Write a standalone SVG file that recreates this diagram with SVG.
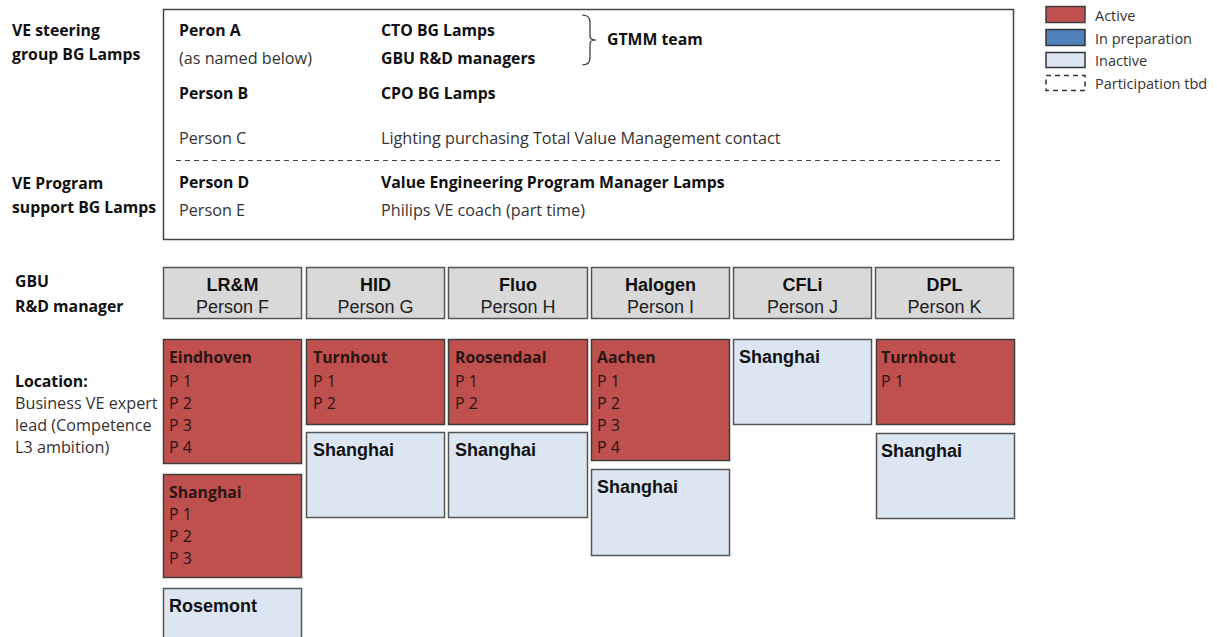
<svg xmlns="http://www.w3.org/2000/svg" width="1217" height="637" viewBox="0 0 1217 637">
<style>
.c{font-family:"Open Sans","Liberation Sans",sans-serif;font-size:16.2px;fill:#333}
.cb{font-family:"Open Sans","Liberation Sans",sans-serif;font-size:15.8px;font-weight:bold;fill:#111}
.lg{font-family:"Open Sans","Liberation Sans",sans-serif;font-size:14.5px;fill:#333}
.ab{font-family:"Liberation Sans",Arial,sans-serif;font-size:18px;font-weight:bold;fill:#111}
.ar{font-family:"Liberation Sans",Arial,sans-serif;font-size:18px;fill:#222}
.rt{font-family:"Open Sans","Liberation Sans",sans-serif;font-size:16px;fill:#2a1515}
.rtb{font-family:"Open Sans","Liberation Sans",sans-serif;font-size:15.8px;font-weight:bold;fill:#2a1515}
.hdr{fill:#d9d9d9;stroke:#555;stroke-width:1.5}
.act{fill:#c0504d;stroke:#3d3d3d;stroke-width:1.5}
.ina{fill:#dce6f2;stroke:#555;stroke-width:1.5}
.prep{fill:#4f81bd;stroke:#333;stroke-width:1.5}
</style>

<g id="labels">
<text class="cb" x="12" y="36">VE steering</text>
<text class="cb" x="12" y="60">group BG Lamps</text>
<text class="cb" x="12" y="189">VE Program</text>
<text class="cb" x="12" y="213">support BG Lamps</text>
<text class="cb" x="15" y="287">GBU</text>
<text class="cb" x="15" y="312">R&amp;D manager</text>
<text class="cb" x="15" y="387">Location:</text>
<text class="c" x="15" y="409">Business VE expert</text>
<text class="c" x="15" y="431">lead (Competence</text>
<text class="c" x="15" y="453">L3 ambition)</text>
</g>

<g id="steering">
<rect x="163.5" y="9.5" width="850" height="230" fill="#fff" stroke="#444" stroke-width="1.5"/>
<line x1="176" y1="160.5" x2="1002" y2="160.5" stroke="#444" stroke-width="1.2" stroke-dasharray="5,4"/>
<text class="cb" x="179" y="36">Peron A</text>
<text class="c" x="179" y="64">(as named below)</text>
<text class="cb" x="179" y="99">Person B</text>
<text class="c" x="179" y="144">Person C</text>
<text class="cb" x="179" y="188">Person D</text>
<text class="c" x="179" y="216">Person E</text>
<text class="cb" x="381" y="36">CTO BG Lamps</text>
<text class="cb" x="381" y="64">GBU R&amp;D managers</text>
<text class="cb" x="381" y="99">CPO BG Lamps</text>
<text class="c" x="381" y="144">Lighting purchasing Total Value Management contact</text>
<text class="cb" x="381" y="188">Value Engineering Program Manager Lamps</text>
<text class="c" x="381" y="216">Philips VE coach (part time)</text>
<path d="M582,15 Q590,15 590,22 L590,36 Q590,40 596,40 Q590,40 590,44 L590,58 Q590,65 582,65" fill="none" stroke="#333" stroke-width="1.2"/>
<text class="cb" x="607" y="45">GTMM team</text>
</g>

<g id="legend">
<rect class="act" x="1046" y="6.5" width="39" height="16"/>
<text class="lg" x="1095" y="21">Active</text>
<rect class="prep" x="1046" y="29.5" width="39" height="16"/>
<text class="lg" x="1095" y="44">In preparation</text>
<rect x="1046" y="52.5" width="39" height="15" fill="#dce6f2" stroke="#333" stroke-width="1.5"/>
<text class="lg" x="1095" y="66">Inactive</text>
<rect x="1046" y="75.5" width="39" height="15" fill="none" stroke="#333" stroke-width="1.5" stroke-dasharray="5,4"/>
<text class="lg" x="1095" y="89">Participation tbd</text>
</g>

<g id="gbu-lrm">
<rect class="hdr" x="163.5" y="267.5" width="138" height="51"/>
<text class="ab" x="232.5" y="291" text-anchor="middle">LR&amp;M</text>
<text class="ar" x="232.5" y="313" text-anchor="middle">Person F</text>
</g>
<g id="gbu-hid">
<rect class="hdr" x="306.5" y="267.5" width="138" height="51"/>
<text class="ab" x="375.5" y="291" text-anchor="middle">HID</text>
<text class="ar" x="375.5" y="313" text-anchor="middle">Person G</text>
</g>
<g id="gbu-fluo">
<rect class="hdr" x="448.5" y="267.5" width="139" height="51"/>
<text class="ab" x="518" y="291" text-anchor="middle">Fluo</text>
<text class="ar" x="518" y="313" text-anchor="middle">Person H</text>
</g>
<g id="gbu-halogen">
<rect class="hdr" x="591.5" y="267.5" width="138" height="51"/>
<text class="ab" x="660.5" y="291" text-anchor="middle">Halogen</text>
<text class="ar" x="660.5" y="313" text-anchor="middle">Person I</text>
</g>
<g id="gbu-cfli">
<rect class="hdr" x="733.5" y="267.5" width="138" height="51"/>
<text class="ab" x="802.5" y="291" text-anchor="middle">CFLi</text>
<text class="ar" x="802.5" y="313" text-anchor="middle">Person J</text>
</g>
<g id="gbu-dpl">
<rect class="hdr" x="875.5" y="267.5" width="138" height="51"/>
<text class="ab" x="944.5" y="291" text-anchor="middle">DPL</text>
<text class="ar" x="944.5" y="313" text-anchor="middle">Person K</text>
</g>

<g id="loc-eindhoven">
<rect class="act" x="163.5" y="339.5" width="138" height="124"/>
<text class="rtb" x="169" y="363">Eindhoven</text>
<text class="rt" x="169" y="387">P 1</text>
<text class="rt" x="169" y="409">P 2</text>
<text class="rt" x="169" y="431">P 3</text>
<text class="rt" x="169" y="453">P 4</text>
</g>
<g id="loc-lrm-shanghai">
<rect class="act" x="163.5" y="474.5" width="138" height="103"/>
<text class="rtb" x="169" y="498">Shanghai</text>
<text class="rt" x="169" y="520">P 1</text>
<text class="rt" x="169" y="542">P 2</text>
<text class="rt" x="169" y="564">P 3</text>
</g>
<g id="loc-rosemont">
<rect class="ina" x="163.5" y="588.5" width="138" height="60"/>
<text class="ab" x="169" y="612">Rosemont</text>
</g>

<g id="loc-hid-turnhout">
<rect class="act" x="306.5" y="339.5" width="138" height="85"/>
<text class="rtb" x="313" y="363">Turnhout</text>
<text class="rt" x="313" y="387">P 1</text>
<text class="rt" x="313" y="409">P 2</text>
</g>
<g id="loc-hid-shanghai">
<rect class="ina" x="306.5" y="432.5" width="138" height="85"/>
<text class="ab" x="313" y="456">Shanghai</text>
</g>

<g id="loc-roosendaal">
<rect class="act" x="448.5" y="339.5" width="139" height="85"/>
<text class="rtb" x="455" y="363">Roosendaal</text>
<text class="rt" x="455" y="387">P 1</text>
<text class="rt" x="455" y="409">P 2</text>
</g>
<g id="loc-fluo-shanghai">
<rect class="ina" x="448.5" y="432.5" width="139" height="85"/>
<text class="ab" x="455" y="456">Shanghai</text>
</g>

<g id="loc-aachen">
<rect class="act" x="591.5" y="339.5" width="138" height="121"/>
<text class="rtb" x="597" y="363">Aachen</text>
<text class="rt" x="597" y="387">P 1</text>
<text class="rt" x="597" y="409">P 2</text>
<text class="rt" x="597" y="431">P 3</text>
<text class="rt" x="597" y="453">P 4</text>
</g>
<g id="loc-halogen-shanghai">
<rect class="ina" x="591.5" y="469.5" width="138" height="86"/>
<text class="ab" x="597" y="493">Shanghai</text>
</g>

<g id="loc-cfli-shanghai">
<rect class="ina" x="733.5" y="339.5" width="138" height="85"/>
<text class="ab" x="739" y="363">Shanghai</text>
</g>

<g id="loc-dpl-turnhout">
<rect class="act" x="876.5" y="339.5" width="138" height="85"/>
<text class="rtb" x="881" y="363">Turnhout</text>
<text class="rt" x="881" y="387">P 1</text>
</g>
<g id="loc-dpl-shanghai">
<rect class="ina" x="876.5" y="433.5" width="138" height="85"/>
<text class="ab" x="881" y="457">Shanghai</text>
</g>

<g id="connectors"></g>
</svg>
